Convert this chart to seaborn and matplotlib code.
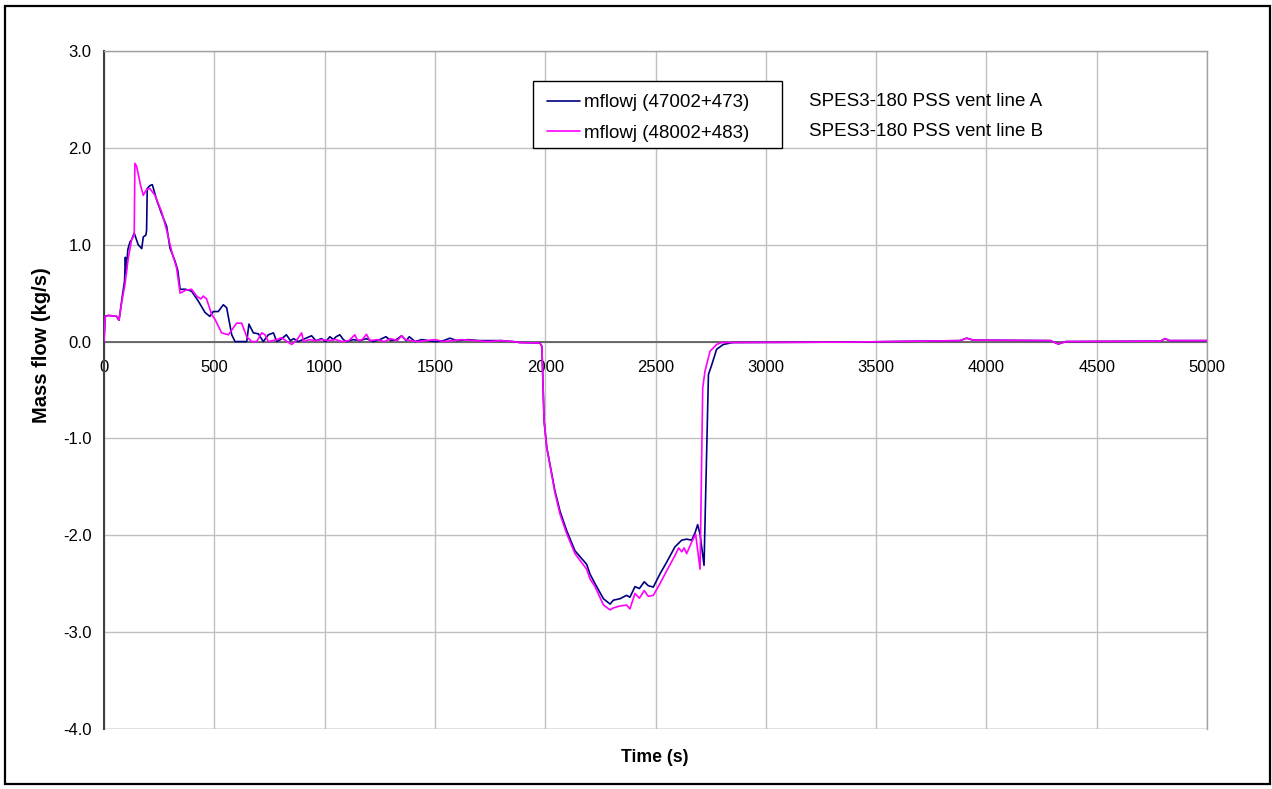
import numpy as np
import pandas as pd
import matplotlib
matplotlib.use("Agg")
import matplotlib.pyplot as plt
from matplotlib.patches import Rectangle
import seaborn as sns

# ---------------- data ----------------
series_names = ["mflowj (47002+473)", "mflowj (48002+483)"]
annot_lines = ["SPES3-180 PSS vent line A", "SPES3-180 PSS vent line B"]

time_a = [0, 5, 20, 57, 68, 85, 93, 97, 100, 108, 118, 125, 137, 155, 171, 178, 190, 193,
          196, 208, 219, 239, 261, 284, 290, 299, 322, 334, 345, 370, 397, 427, 458, 480,
          495, 518, 541, 556, 579, 594, 647, 657, 677, 700, 722, 745, 768, 783, 800, 827,
          845, 860, 880, 911, 941, 960, 986, 1005, 1024, 1040, 1052, 1069, 1085, 1100,
          1130, 1160, 1190, 1220, 1250, 1278, 1300, 1325, 1349, 1370, 1384, 1410, 1440,
          1470, 1500, 1540, 1568, 1600, 1650, 1700, 1750, 1800, 1855, 1885, 1976, 1985,
          1995, 2007, 2022, 2044, 2067, 2097, 2135, 2188, 2203, 2226, 2264, 2294, 2309,
          2339, 2369, 2384, 2407, 2427, 2449, 2467, 2490, 2520, 2550, 2588, 2619, 2641,
          2664, 2680, 2691, 2702, 2720, 2740, 2755, 2777, 2807, 2850, 3400, 3880, 3911,
          3940, 4290, 4326, 4360, 4790, 4810, 4830, 5000]
flow_a = [0.0, 0.26, 0.27, 0.26, 0.22, 0.50, 0.62, 0.87, 0.70, 0.95, 1.03, 1.05, 1.12, 1.00,
          0.96, 1.08, 1.10, 1.15, 1.58, 1.61, 1.62, 1.46, 1.32, 1.19, 1.10, 0.965, 0.83,
          0.74, 0.54, 0.54, 0.52, 0.42, 0.30, 0.26, 0.31, 0.31, 0.38, 0.35, 0.07, 0.0, 0.0,
          0.18, 0.09, 0.08, 0.0, 0.07, 0.09, 0.0, 0.02, 0.07, 0.01, 0.03, 0.0, 0.03, 0.06,
          0.01, 0.03, 0.0, 0.05, 0.02, 0.05, 0.07, 0.02, 0.0, 0.02, 0.01, 0.03, 0.0, 0.02,
          0.05, 0.01, 0.02, 0.06, 0.01, 0.05, 0.0, 0.02, 0.01, 0.0, 0.01, 0.035, 0.01, 0.02,
          0.01, 0.01, 0.01, 0.0, -0.01, -0.015, -0.05, -0.82, -1.09, -1.27, -1.54, -1.75,
          -1.95, -2.16, -2.30, -2.40, -2.50, -2.655, -2.71, -2.67, -2.655, -2.62, -2.64,
          -2.53, -2.55, -2.48, -2.52, -2.535, -2.40, -2.28, -2.12, -2.05, -2.04, -2.05,
          -1.97, -1.89, -1.99, -2.31, -0.34, -0.24, -0.08, -0.03, -0.01, -0.005, 0.01,
          0.035, 0.015, 0.01, -0.025, 0.0, 0.005, 0.03, 0.01, 0.01]

time_b = [0, 5, 20, 57, 68, 80, 95, 110, 125, 137, 140, 148, 165, 178, 193, 208, 231, 261,
          284, 307, 329, 345, 370, 397, 420, 439, 450, 465, 488, 503, 533, 564, 601, 624,
          647, 670, 692, 715, 730, 745, 783, 805, 830, 851, 875, 896, 905, 930, 960, 990,
          1020, 1050, 1080, 1110, 1137, 1150, 1170, 1190, 1205, 1240, 1270, 1300, 1330,
          1349, 1365, 1390, 1420, 1460, 1500, 1540, 1580, 1620, 1680, 1740, 1800, 1855,
          1885, 1976, 1985, 1995, 2007, 2022, 2044, 2067, 2097, 2135, 2188, 2203, 2226,
          2264, 2294, 2309, 2339, 2369, 2384, 2407, 2427, 2449, 2467, 2490, 2520, 2550,
          2588, 2605, 2619, 2630, 2641, 2664, 2682, 2702, 2714, 2724, 2747, 2777, 2800,
          3400, 3880, 3911, 3940, 4290, 4326, 4360, 4790, 4810, 4830, 5000]
flow_b = [0.0, 0.26, 0.27, 0.26, 0.22, 0.40, 0.59, 0.86, 1.05, 1.10, 1.84, 1.81, 1.62,
          1.51, 1.57, 1.58, 1.51, 1.34, 1.15, 0.93, 0.76, 0.50, 0.53, 0.54, 0.47, 0.44,
          0.47, 0.44, 0.28, 0.23, 0.09, 0.07, 0.19, 0.19, 0.05, 0.0, 0.0, 0.09, 0.07, 0.0,
          0.02, 0.04, 0.0, -0.03, 0.02, 0.09, 0.0, 0.02, 0.01, 0.02, 0.01, 0.02, 0.0, 0.01,
          0.07, 0.01, 0.02, 0.075, 0.01, 0.02, 0.0, 0.03, 0.01, 0.06, 0.02, 0.01, 0.0,
          0.01, 0.02, 0.0, 0.01, 0.02, 0.01, 0.0, 0.01, 0.0, -0.01, -0.015, -0.05, -0.82,
          -1.10, -1.28, -1.56, -1.78, -1.98, -2.19, -2.35, -2.45, -2.53, -2.72, -2.77,
          -2.75, -2.73, -2.72, -2.76, -2.60, -2.65, -2.57, -2.63, -2.62, -2.50, -2.37,
          -2.21, -2.13, -2.17, -2.13, -2.19, -2.07, -1.99, -2.35, -0.48, -0.31, -0.10,
          -0.03, -0.01, -0.005, 0.01, 0.035, 0.015, 0.01, -0.025, 0.0, 0.005, 0.03, 0.01,
          0.01]

x_ticks = [0, 500, 1000, 1500, 2000, 2500, 3000, 3500, 4000, 4500, 5000]
y_ticks = [3.0, 2.0, 1.0, 0.0, -1.0, -2.0, -3.0, -4.0]

df = pd.concat([
    pd.DataFrame({"Time": time_a, "Flow": flow_a, "Series": series_names[0]}),
    pd.DataFrame({"Time": time_b, "Flow": flow_b, "Series": series_names[1]}),
], ignore_index=True)

# ---------------- plot ----------------
sns.set_style("white")
plt.rcParams["font.family"] = ["Liberation Sans", "DejaVu Sans"]
plt.rcParams["text.color"] = "black"
plt.rcParams["xtick.color"] = "black"
plt.rcParams["ytick.color"] = "black"

W, H = 1272, 789
fig = plt.figure(figsize=(W / 100, H / 100), dpi=100)
fig.patch.set_facecolor("white")
fig.patches.append(Rectangle((5 / W, 5 / H), 1265 / W, 778 / H, transform=fig.transFigure,
                             fill=False, edgecolor="black", linewidth=1.6))

ax = fig.add_axes([104 / W, 1 - 729 / H, 1103 / W, 678 / H])

sns.lineplot(data=df, x="Time", y="Flow", hue="Series", estimator=None, sort=False,
             palette={series_names[0]: "#000080", series_names[1]: "#FF00FF"},
             linewidth=1.2, ax=ax, zorder=3)

ax.spines["bottom"].set_position(("data", 0))

ax.set_xlim(0, 5000)
ax.set_ylim(-4.0, 3.0)
ax.set_xticks(x_ticks)
ax.set_yticks(y_ticks)
ax.set_xticklabels([str(v) for v in x_ticks])
ax.set_yticklabels([f"{v:.1f}" for v in y_ticks])

ax.grid(True, color="#c0c0c0", linewidth=1.0)
ax.set_axisbelow(True)

for s in ["top", "right"]:
    ax.spines[s].set_color("#a0a0a0")
    ax.spines[s].set_linewidth(1.0)
ax.spines["left"].set_color("#404040")
ax.spines["left"].set_linewidth(1.5)
ax.spines["bottom"].set_color("#606060")
ax.spines["bottom"].set_linewidth(1.3)
ax.spines["bottom"].set_zorder(2)
ax.axhline(-4.0, color="#a0a0a0", linewidth=1.0, zorder=1)

ax.tick_params(axis="x", direction="out", length=6, width=1, color="#202020", pad=7,
               labelsize=12, labelcolor="black")
ax.tick_params(axis="y", direction="out", length=5, width=1, color="#404040", pad=4,
               labelsize=12, labelcolor="black")

ax.set_xlabel("")
ax.set_ylabel("")
fig.text(655 / W, 1 - 758 / H, "Time (s)", ha="center", va="center",
         fontsize=12.7, fontweight="bold", color="black")
fig.text(42 / W, 1 - 345 / H, "Mass flow (kg/s)", ha="center", va="center",
         rotation=90, fontsize=14.5, fontweight="bold", color="black")

# legend box (white, hides grid) and legend contents on top of it
ax.add_patch(Rectangle((533 / W, 1 - 148 / H), 249 / W, 67 / H,
                       transform=fig.transFigure, facecolor="white",
                       edgecolor="black", linewidth=1.0, zorder=4, clip_on=False))
leg = ax.legend(loc="center left", bbox_to_anchor=(547 / W, 1 - 118 / H),
                bbox_transform=fig.transFigure, fontsize=13.5, frameon=False,
                handlelength=1.75, handletextpad=0.25, labelspacing=0.72,
                borderpad=0.0, borderaxespad=0)
leg.set_zorder(5)
for line in leg.get_lines():
    line.set_linewidth(1.2)
for t in leg.get_texts():
    t.set_color("black")

fig.text(809 / W, 1 - 101 / H, annot_lines[0], ha="left", va="center", fontsize=13.5,
         color="black")
fig.text(809 / W, 1 - 131 / H, annot_lines[1], ha="left", va="center", fontsize=13.5,
         color="black")

fig.savefig("out.png", dpi=100, facecolor="white")
